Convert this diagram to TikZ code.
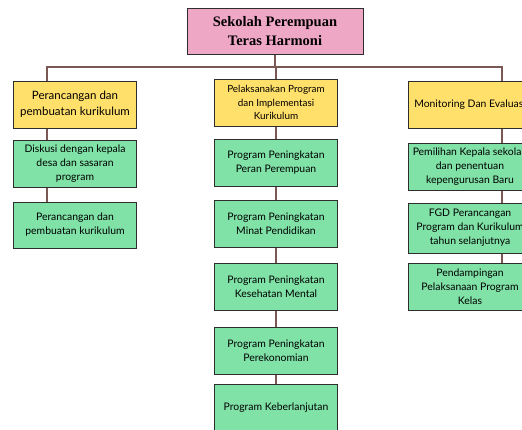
\documentclass[tikz,border=0pt]{standalone}
\usepackage{fontspec}
\setmainfont{Lato}
\newfontfamily\titlefont{Liberation Serif}
\usepackage{tikz}
\definecolor{titlepink}{RGB}{239,167,198}
\definecolor{headyellow}{RGB}{255,224,106}
\definecolor{itemgreen}{RGB}{128,226,166}
\definecolor{linkbrown}{RGB}{122,88,84}
\definecolor{boxline}{RGB}{45,45,45}

\begin{document}
\begin{tikzpicture}[x=1pt, y=-1pt,
    box/.style={draw=boxline, line width=1pt, align=center, inner sep=1pt,
      font=\fontsize{10.4}{14}\selectfont},
    titlebox/.style={box, fill=titlepink, minimum width=176pt, minimum height=46pt,
      font=\titlefont\bfseries\fontsize{14.5}{19}\selectfont},
    headbox/.style={box, fill=headyellow, minimum width=123pt, minimum height=47pt},
    itembox/.style={box, fill=itemgreen, minimum width=123pt, minimum height=47pt},
    link/.style={draw=linkbrown, line width=1.8pt}]
      \useasboundingbox (0,0) rectangle (522,429);
      \clip (0,0) rectangle (522,429);

      % column lines
      \coordinate (bus) at (0,67);
      \coordinate (lx) at (47,0);
      \coordinate (mx) at (276,0);
      \coordinate (rx) at (502,0);

      \node[titlebox] (title) at (275,31) {Sekolah Perempuan\\Teras Harmoni};

      % left column
      \node[headbox, font=\fontsize{11.5}{16}\selectfont] (lhead) at (75,104.5) {Perancangan dan\\pembuatan kurikulum};
      \node[itembox] (lone) at (75,164) {Diskusi dengan kepala\\desa dan sasaran\\program};
      \node[itembox, minimum height=46pt] (ltwo) at (75,225) {Perancangan dan\\pembuatan kurikulum};

      % middle column
      \node[headbox, font=\fontsize{9.9}{13.5}\selectfont] (mhead) at (276,102.5) {Pelaksanakan Program\\dan Implementasi\\Kurikulum};
      \node[itembox] (mone) at (276,163) {Program Peningkatan\\Peran Perempuan};
      \node[itembox] (mtwo) at (276,224) {Program Peningkatan\\Minat Pendidikan};
      \node[itembox] (mthree) at (276,287) {Program Peningkatan\\Kesehatan Mental};
      \node[itembox] (mfour) at (276,350.5) {Program Peningkatan\\Perekonomian};
      \node[itembox] (mfive) at (276,408) {Program Keberlanjutan};

      % right column
      \node[headbox] (rhead) at (470,104.5) {Monitoring Dan Evaluasi};
      \node[itembox] (rone) at (470,166.5) {Pemilihan Kepala sekolah\\dan penentuan\\kepengurusan Baru};
      \node[itembox, minimum height=50pt] (rtwo) at (470,228) {FGD Perancangan\\Program dan Kurikulum\\tahun selanjutnya};
      \node[itembox] (rthree) at (470,286.5) {Pendampingan\\Pelaksanaan Program\\Kelas};

      % connectors
      \draw[link] (title.south) -- (title.south |- bus);
      \draw[link] (lhead.north -| lx) |- (bus -| rx) -- (rhead.north -| rx);
      \draw[link] (bus -| mx) -- (mhead.north -| mx);

      \draw[link] (lhead.south -| lx) -- (lone.north -| lx);
      \draw[link] (lone.south -| lx) -- (ltwo.north -| lx);

      \draw[link] (mhead.south -| mx) -- (mone.north -| mx);
      \draw[link] (mone.south -| mx) -- (mtwo.north -| mx);
      \draw[link] (mtwo.south -| mx) -- (mthree.north -| mx);
      \draw[link] (mthree.south -| mx) -- (mfour.north -| mx);
      \draw[link] (mfour.south -| mx) -- (mfive.north -| mx);

      \draw[link] (rhead.south -| rx) -- (rone.north -| rx);
      \draw[link] (rone.south -| rx) -- (rtwo.north -| rx);
      \draw[link] (rtwo.south -| rx) -- (rthree.north -| rx);
\end{tikzpicture}
\end{document}
